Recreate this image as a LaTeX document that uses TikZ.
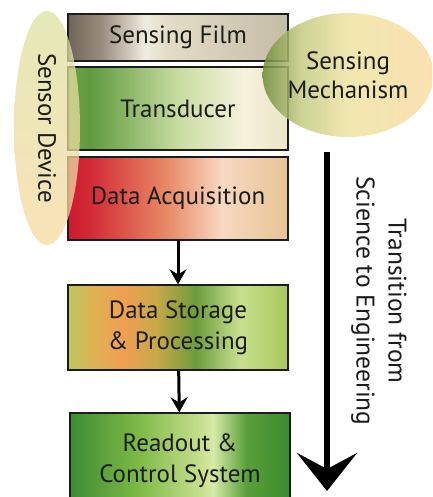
\documentclass[tikz,border=0pt]{standalone}
\usepackage{fontspec}
\setmainfont{PT Sans}
\usetikzlibrary{arrows.meta,shapes.geometric,positioning}

\definecolor{filmA}{HTML}{6E6458}
\definecolor{filmB}{HTML}{988C7C}
\definecolor{filmC}{HTML}{F0ECDF}
\definecolor{filmD}{HTML}{E4DCC6}
\definecolor{filmE}{HTML}{C4BCA6}
\definecolor{transA}{HTML}{6DA048}
\definecolor{transB}{HTML}{5F9A3E}
\definecolor{transC}{HTML}{C8DCA0}
\definecolor{transD}{HTML}{F5F2DC}
\definecolor{transE}{HTML}{ECE4C4}
\definecolor{acqA}{HTML}{CC1A2E}
\definecolor{acqB}{HTML}{D42A36}
\definecolor{acqC}{HTML}{E88A66}
\definecolor{acqD}{HTML}{F8D8C2}
\definecolor{acqE}{HTML}{E6C494}
\definecolor{storeA}{HTML}{BCC860}
\definecolor{storeB}{HTML}{E0B054}
\definecolor{storeC}{HTML}{F0A050}
\definecolor{storeD}{HTML}{C8A848}
\definecolor{storeE}{HTML}{6C9C3C}
\definecolor{storeF}{HTML}{C8E08E}
\definecolor{storeG}{HTML}{A8C85C}
\definecolor{readA}{HTML}{3C8C34}
\definecolor{readB}{HTML}{7CB844}
\definecolor{readC}{HTML}{C8E090}
\definecolor{readD}{HTML}{D8EAA8}
\definecolor{readE}{HTML}{5AA03A}
\definecolor{readF}{HTML}{3A8A2C}
\definecolor{ovalL}{HTML}{F8DAA0}
\definecolor{ovalM}{HTML}{EEE4A6}
\definecolor{ovalR}{HTML}{DCE2A0}
\definecolor{mechA}{HTML}{6E8C3C}
\definecolor{mechB}{HTML}{C4CA82}
\definecolor{mechC}{HTML}{EFE4A2}
\definecolor{mechD}{HTML}{FBDCA4}
\definecolor{inkgray}{HTML}{1C1C1C}

\pgfdeclarehorizontalshading{film-shade}{100bp}{color(0bp)=(filmA); color(25bp)=(filmA);
  color(32.5bp)=(filmB); color(42.5bp)=(filmC); color(47.5bp)=(filmD); color(75bp)=(filmE); color(100bp)=(filmE)}
\pgfdeclarehorizontalshading{trans-shade}{100bp}{color(0bp)=(transA); color(25bp)=(transA);
  color(30bp)=(transB); color(50bp)=(transC); color(65bp)=(transD); color(75bp)=(transE); color(100bp)=(transE)}
\pgfdeclarehorizontalshading{acq-shade}{100bp}{color(0bp)=(acqA); color(25bp)=(acqA);
  color(30bp)=(acqB); color(47.5bp)=(acqC); color(60bp)=(acqD); color(75bp)=(acqE); color(100bp)=(acqE)}
\pgfdeclarehorizontalshading{store-shade}{100bp}{color(0bp)=(storeA); color(25bp)=(storeA);
  color(31bp)=(storeB); color(37.5bp)=(storeC); color(45bp)=(storeD); color(54bp)=(storeE);
  color(64bp)=(storeF); color(75bp)=(storeG); color(100bp)=(storeG)}
\pgfdeclarehorizontalshading{read-shade}{100bp}{color(0bp)=(readA); color(25bp)=(readA);
  color(40bp)=(readB); color(55bp)=(readC); color(57.5bp)=(readD); color(65bp)=(readE);
  color(75bp)=(readF); color(100bp)=(readF)}
\pgfdeclarehorizontalshading{mech-shade}{100bp}{color(0bp)=(mechA); color(25bp)=(mechA);
  color(36bp)=(mechB); color(50bp)=(mechC); color(75bp)=(mechD); color(100bp)=(mechD)}

\tikzset{
    stage-box/.style = {draw=inkgray, line width=1.3pt, rectangle, minimum width=220pt, align=center,
        text=inkgray, font=\fontsize{25}{31}\selectfont, inner sep=0pt},
    sense-oval/.style = {ellipse, inner sep=0pt, fill opacity=0.75, text opacity=1, text=inkgray,
        font=\fontsize{25}{29}\selectfont, align=center},
    flow-arrow/.style = {line width=3pt, -{Stealth[length=15pt,width=17pt,inset=5pt]}},
    big-arrow/.style = {line width=5.5pt, -{Stealth[length=38pt,width=60pt,inset=16pt]}},
}

\begin{document}
\begin{tikzpicture}[x=1pt,y=-1pt]
\clip (0,0) rectangle (432,497);
\fill[white] (0,0) rectangle (432,497);

% stages
\node [stage-box, shading=film-shade, minimum height=47pt] (film) at (178,37.5) {Sensing Film};
\node [stage-box, shading=trans-shade, minimum height=83pt] (trans) at (178,108.5) {Transducer};
\node [stage-box, shading=acq-shade, minimum height=83pt] (acq) at (178,198.5) {Data Acquisition};
\node [stage-box, shading=store-shade, minimum height=85pt] (store) at (178,327.5) {Data Storage\\\& Processing};
\node [stage-box, shading=read-shade, minimum height=90pt, text depth=0pt] (readout) at (180,458) {Readout \&\\Control System};

\draw [flow-arrow] (acq) -- (store);
\draw [flow-arrow] (store) -- (readout);

% groupings
\node [sense-oval, bottom color=ovalL, middle color=ovalM, top color=ovalR, minimum width=234pt,
    minimum height=66pt, rotate=-90] (device) at (47,128) {Sensor Device};
\node [sense-oval, shading=mech-shade, fill opacity=0.85, minimum width=170pt,
    minimum height=124pt] (mech) at (348,75) {Sensing\\Mechanism};

% science -> engineering
\coordinate (shift-top) at (327,152);
\coordinate (shift-end) at (327,491);
\draw [big-arrow] (shift-top) -- (shift-end);
\node [rotate=-90, align=center, text=inkgray, font=\fontsize{25.5}{32}\selectfont] (shift-label) at (379,301)
    {Transition from\\Science to Engineering};
\end{tikzpicture}
\end{document}
